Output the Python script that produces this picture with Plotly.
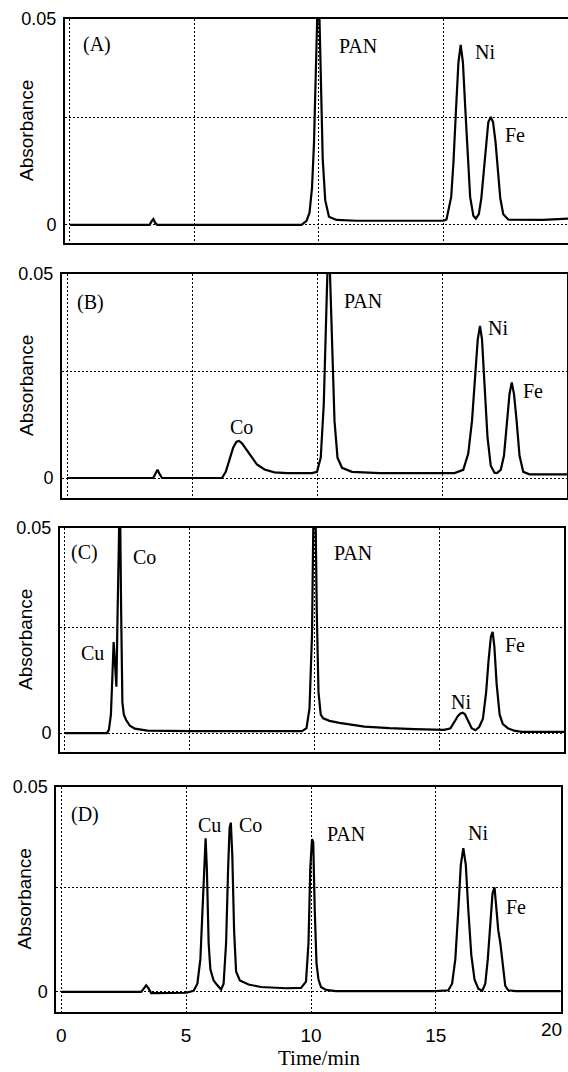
import plotly.graph_objects as go

# ---------------- data ----------------
time_A = [0, 3.2, 3.28, 3.35, 3.42, 3.5, 9.3, 9.5, 9.62, 9.72, 9.8, 9.87, 9.93, 9.97, 10.02,
          10.08, 10.15, 10.25, 10.4, 10.7, 11.5, 15.0, 15.12, 15.31, 15.4, 15.5, 15.6, 15.69,
          15.78, 15.88, 15.98, 16.07, 16.2, 16.3, 16.42, 16.52, 16.62, 16.71, 16.8, 16.9, 16.99,
          17.09, 17.18, 17.28, 17.4, 17.6, 19.0, 20]
abs_A = [0, 0, 0.0009, 0.0014, 0.0005, 0, 0, 0.001, 0.003, 0.009, 0.02, 0.036, 0.05, 0.06, 0.05,
         0.033, 0.016, 0.006, 0.002, 0.0012, 0.001, 0.001, 0.0013, 0.0068, 0.0152, 0.0277, 0.0395,
         0.0437, 0.0395, 0.0277, 0.0152, 0.0068, 0.0022, 0.0015, 0.0026, 0.0065, 0.0131, 0.0201,
         0.025, 0.0262, 0.025, 0.0201, 0.0131, 0.0065, 0.0026, 0.0013, 0.0012, 0.0015]

time_B = [0, 3.45, 3.55, 3.62, 3.7, 3.8, 6.2, 6.35, 6.5, 6.65, 6.78, 6.88, 7.0, 7.15, 7.35, 7.6,
          7.9, 8.3, 8.8, 9.8, 10.0, 10.15, 10.27, 10.36, 10.42, 10.46, 10.52, 10.6, 10.7, 10.82,
          11.0, 11.4, 12.5, 14.5, 15.5, 15.85, 16.05, 16.2, 16.32, 16.43, 16.52, 16.6, 16.7, 16.82,
          16.95, 17.1, 17.2, 17.35, 17.48, 17.6, 17.7, 17.79, 17.88, 17.98, 18.1, 18.25, 18.5, 20]
abs_B = [0, 0, 0.0012, 0.002, 0.001, 0, 0, 0.0015, 0.0045, 0.0075, 0.0089, 0.0091, 0.0085, 0.0072,
         0.0052, 0.0033, 0.0021, 0.0014, 0.0012, 0.0012, 0.0015, 0.005, 0.018, 0.038, 0.05, 0.06,
         0.05, 0.033, 0.014, 0.005, 0.0025, 0.0015, 0.0012, 0.0012, 0.0012, 0.002, 0.006, 0.014,
         0.025, 0.034, 0.0373, 0.034, 0.023, 0.01, 0.003, 0.0013, 0.0012, 0.002, 0.0055, 0.0143,
         0.0206, 0.0234, 0.0206, 0.0143, 0.0055, 0.0015, 0.0009, 0.0009]

time_C = [0, 1.68, 1.76, 1.84, 1.9, 1.95, 2.0, 2.06, 2.11, 2.15, 2.2, 2.25, 2.3, 2.36, 2.45, 2.6,
          2.8, 3.3, 5.0, 9.5, 9.68, 9.8, 9.9, 9.97, 10.03, 10.09, 10.16, 10.25, 10.35, 10.6, 11.0,
          12.0, 13.0, 14.0, 15.2, 15.45, 15.6, 15.75, 15.85, 15.94, 16.03, 16.14, 16.3, 16.45, 16.6,
          16.75, 16.88, 16.98, 17.07, 17.14, 17.21, 17.3, 17.42, 17.55, 17.75, 18.0, 18.3, 20]
abs_C = [0, 0, 0.0008, 0.0045, 0.014, 0.0222, 0.0175, 0.0113, 0.03, 0.06, 0.06, 0.03, 0.0075,
         0.0045, 0.0032, 0.0018, 0.0011, 0.0006, 0.0005, 0.0005, 0.0012, 0.006, 0.024, 0.06, 0.06,
         0.03, 0.01, 0.0045, 0.0036, 0.003, 0.0025, 0.0016, 0.0012, 0.001, 0.0008, 0.0012, 0.0026,
         0.0042, 0.0048, 0.005, 0.0046, 0.0032, 0.0012, 0.0007, 0.0015, 0.0035, 0.01, 0.018, 0.0235,
         0.0247, 0.021, 0.012, 0.0045, 0.0022, 0.0012, 0.0006, 0.0003, 0.0003]

time_D = [0, 3.2, 3.3, 3.4, 3.5, 3.6, 3.8, 5.0, 5.3, 5.45, 5.57, 5.67, 5.73, 5.78, 5.83, 5.9, 5.97,
          6.1, 6.25, 6.4, 6.5, 6.6, 6.68, 6.74, 6.79, 6.85, 6.92, 7.0, 7.15, 7.5, 8.0, 9.0, 9.6,
          9.8, 9.9, 9.97, 10.04, 10.09, 10.15, 10.22, 10.3, 10.4, 10.6, 11.0, 15.0, 15.5, 15.65,
          15.78, 15.9, 16.0, 16.1, 16.2, 16.3, 16.42, 16.55, 16.7, 16.86, 16.98, 17.08, 17.18,
          17.27, 17.35, 17.42, 17.5, 17.58, 17.68, 17.78, 17.9, 18.2, 20]
abs_D = [0, 0, 0.0008, 0.0016, 0.0008, -0.0003, -0.0003, -0.0002, 0.0003, 0.002, 0.008, 0.022,
         0.033, 0.0375, 0.03, 0.012, 0.0055, 0.0028, 0.0016, 0.0006, 0.002, 0.012, 0.03, 0.04,
         0.0413, 0.033, 0.015, 0.005, 0.0028, 0.0018, 0.0012, 0.0009, 0.001, 0.0025, 0.012, 0.03,
         0.0373, 0.0365, 0.02, 0.007, 0.003, 0.0012, 0.0005, 0.0002, 0.0002, 0.0004, 0.002, 0.008,
         0.02, 0.031, 0.0351, 0.031, 0.02, 0.009, 0.003, 0.0008, 0.0003, 0.002, 0.008, 0.017,
         0.024, 0.0255, 0.02, 0.015, 0.012, 0.006, 0.0015, 0.0004, 0.0002, 0.0002]

panel_labels = ["(A)", "(B)", "(C)", "(D)"]
peak_labels_A = ["PAN", "Ni", "Fe"]
peak_labels_B = ["Co", "PAN", "Ni", "Fe"]
peak_labels_C = ["Cu", "Co", "PAN", "Ni", "Fe"]
peak_labels_D = ["Cu", "Co", "PAN", "Ni", "Fe"]
x_tick_vals = [0, 5, 10, 15, 20]
x_tick_text = ["0", "5", "10", "15", ""]
last_tick_text = "20"
y_tick_text = ["0", "", "0.05"]
y_label = "Absorbance"
x_label = "Time/min"

# ---------------- layout (pixel geometry of the 568x1072 page) ----------------
W, H = 568, 1072
px_x = lambda p: p / W
px_y = lambda p: 1 - p / H

boxes = [  # left, right, top, bottom (px)
    (65, 568, 19, 243),
    (62, 567, 274, 498),
    (60, 564, 528, 752),
    (56.3, 560.7, 787, 1012),
]
x_range = [-0.2, 20]
y_low = [-0.0044, -0.0049, -0.0046, -0.0049]
y_grid = [0.026, 0.0262, 0.0258, 0.0254]
ylab_x = [27, 27, 25, 24]

label_pos = [
    [(97, 45), (358, 46), (485, 52), (515, 135)],
    [(90, 302), (241, 427), (363, 301), (498, 328), (533, 391)],
    [(84, 552), (92, 653), (144, 557), (353, 553), (461, 702), (515, 645)],
    [(85, 814), (209, 825), (250, 825), (346, 834), (478, 833), (516, 907)],
]

series = [(time_A, abs_A), (time_B, abs_B), (time_C, abs_C), (time_D, abs_D)]
peak_sets = [peak_labels_A, peak_labels_B, peak_labels_C, peak_labels_D]

sans = "Liberation Sans, Arial, sans-serif"
serif = "Liberation Serif, Times New Roman, serif"

fig = go.Figure()
layout = dict(width=W, height=H, margin=dict(l=0, r=0, t=0, b=0, autoexpand=False),
              paper_bgcolor="white", plot_bgcolor="white", showlegend=False)
annotations = []

for i, (t, a) in enumerate(series):
    sfx = "" if i == 0 else str(i + 1)
    fig.add_trace(go.Scatter(x=t, y=a, mode="lines", line=dict(color="black", width=2.2),
                             xaxis="x" + sfx, yaxis="y" + sfx, hoverinfo="skip"))
    l, r, tp, bt = boxes[i]
    layout["xaxis" + sfx] = dict(
        domain=[px_x(l), px_x(r)], range=x_range, anchor="y" + sfx,
        tickvals=x_tick_vals, ticktext=x_tick_text, showticklabels=(i == 3), ticks="",
        tickfont=dict(family=sans, size=19, color="black"), ticklabelstandoff=5,
        showgrid=True, gridcolor="black", gridwidth=1.3, griddash="2px,2px",
        showline=True, mirror=True, linecolor="black", linewidth=2, zeroline=False,
        automargin=False)
    layout["yaxis" + sfx] = dict(
        domain=[px_y(bt), px_y(tp)], range=[y_low[i], 0.05], anchor="x" + sfx,
        tickvals=[0, y_grid[i], 0.05], ticktext=y_tick_text, ticks="",
        tickfont=dict(family=sans, size=18, color="black"), ticklabelstandoff=3,
        showgrid=True, gridcolor="black", gridwidth=1.3, griddash="2px,2px",
        showline=True, mirror=True, linecolor="black", linewidth=2, zeroline=False,
        automargin=False)
    annotations.append(dict(text=y_label, x=px_x(ylab_x[i]), y=px_y((tp + bt) / 2),
                            xref="paper", yref="paper", showarrow=False, textangle=-90,
                            xanchor="center", yanchor="middle",
                            font=dict(family=sans, size=19, color="black")))
    texts = [panel_labels[i]] + peak_sets[i]
    for txt, (xp, yp) in zip(texts, label_pos[i]):
        annotations.append(dict(text=txt, x=px_x(xp), y=px_y(yp), xref="paper", yref="paper",
                                showarrow=False, xanchor="center", yanchor="middle",
                                font=dict(family=serif, size=20, color="black")))

# last x tick label, pulled inside the page edge as in the original
annotations.append(dict(text=last_tick_text, x=px_x(551), y=px_y(1029), xref="paper",
                        yref="paper", showarrow=False, xanchor="center", yanchor="middle",
                        font=dict(family=sans, size=19, color="black")))
annotations.append(dict(text=x_label, x=px_x(319), y=px_y(1058), xref="paper", yref="paper",
                        showarrow=False, xanchor="center", yanchor="middle",
                        font=dict(family=serif, size=21, color="black")))
layout["annotations"] = annotations
fig.update_layout(**layout)
fig.write_html("out.html", config={"displayModeBar": False},
               post_script="document.body.style.margin='0';document.body.style.overflow='hidden';")
